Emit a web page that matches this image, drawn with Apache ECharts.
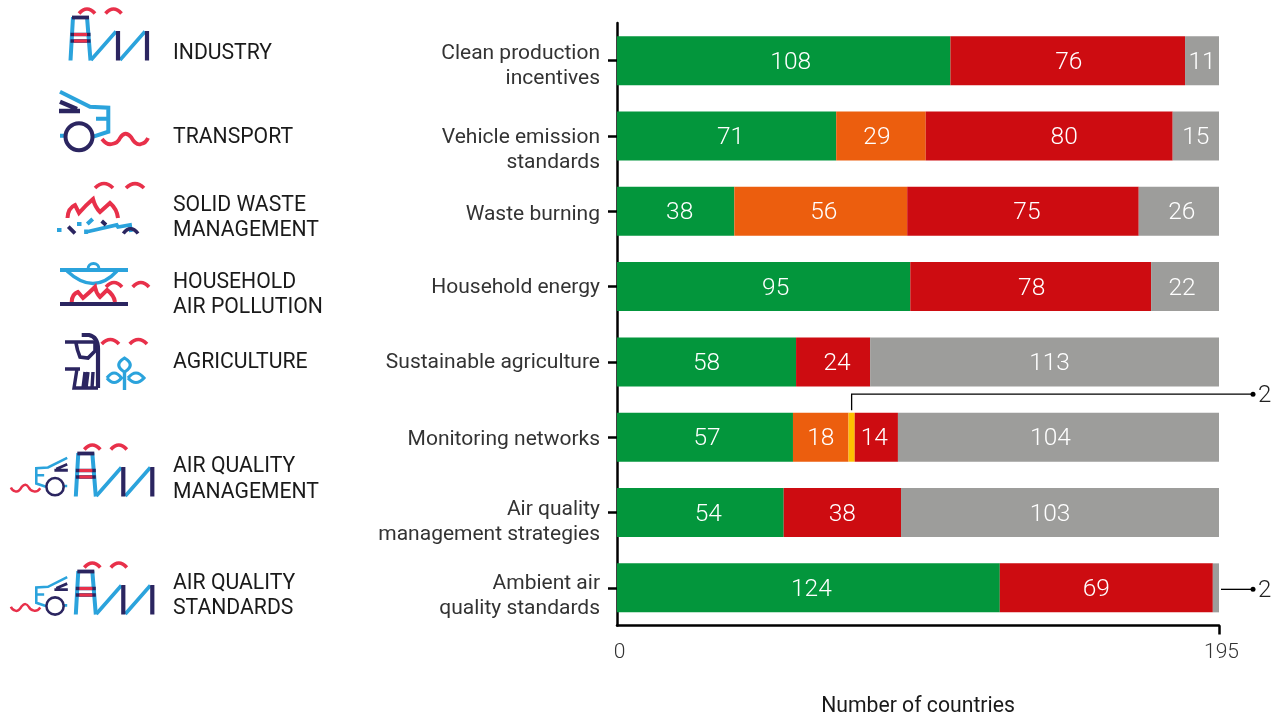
<!DOCTYPE html>
<html><head><meta charset="utf-8">
<style>html,body{margin:0;padding:0;background:#fff}#c{width:1279px;height:715px}</style>
<script src="https://cdn.jsdelivr.net/npm/echarts@6/dist/echarts.min.js"></script>
</head><body><div id="c"></div>
<script>
const categories = ['Clean production\nincentives','Vehicle emission\nstandards','Waste burning','Household energy','Sustainable agriculture','Monitoring networks','Air quality\nmanagement strategies','Ambient air\nquality standards'];
const greenValues  = [108,71,38,95,58,57,54,124];
const orangeValues = [null,29,56,null,null,18,null,null];
const yellowValues = [null,null,null,null,null,2,null,null];
const redValues    = [76,80,75,78,24,14,38,69];
const greyValues   = [11,15,26,22,113,104,103,2];
const axisMax = 195;
const calloutCategories = ['Monitoring networks','Ambient air\nquality standards'];
const calloutValues = [2,2];
const calloutAnchors = [76,195];
const sectorLabels = [
  ['INDUSTRY',54],['TRANSPORT',138],['SOLID WASTE',206],['MANAGEMENT',231],['HOUSEHOLD',283],
  ['AIR POLLUTION',308],['AGRICULTURE',363],['AIR QUALITY',467],['MANAGEMENT',493],['AIR QUALITY',584],['STANDARDS',609]];
const labelSpacers = [12,29,6,2,2,6,20,17];
// horizontal shift of each bar's value label, as placed in the original
const greenNudge  = [7,4,4,12,0,2,8,3];
const orangeNudge = [0,-4,3,0,0,0,0,0];
const yellowNudge = [0,0,0,0,0,0,0,0];
const redNudge    = [1,15,4,1,4,-2,0,-10];
const greyNudge   = [0,0,3,-3,5,-8,-10,0];

const BLUE='#2ba3dc',NAVY='#2b2560',RED='#e8304a';
const FONT='Roboto';
function p(d,stroke,lw){return {type:'path',silent:true,shape:{pathData:d},style:{fill:'none',stroke:stroke,lineWidth:lw,lineJoin:'miter'}};}
function arcs(list){return list.map(a=>p(`M${a[0]},${a[1]} Q${(a[0]+a[2])/2},${a[1]-a[3]*2} ${a[2]},${a[1]}`,RED,3.6));}
function factory(dx,dy){return {type:'group',x:dx,y:dy,silent:true,children:[
  p('M73,17 L70.5,60.5 M87,17 L90.5,60.5',BLUE,4),
  p('M72,17.5 L89,17.5',NAVY,3.8),
  p('M70.5,34.5 L90.5,34.5 M70.5,41 L90.5,41',NAVY,3.4),
  p('M74,34.5 L87,34.5 M74,41 L87,41',RED,2.8),
  p('M91,60 L116,31.5 M120,60 L145,31.5',BLUE,3.6),
  p('M118,31 L118,60.5 M147,31 L147,60.5',NAVY,4.2),
  ...arcs([[79,13.5,95,4.5],[105.5,13.5,121.5,4.5]])
]};}
function car(x,y,sx,sy){return {type:'group',x:x,y:y,scaleX:sx,scaleY:sy,silent:true,children:[
  p('M60,91.7 L90,106.7 L108.3,107.7 L108.3,131.7 L93.3,136.7 M96,118.7 L108,118.7 M60,135.7 L66,135.7',BLUE,4),
  p('M59,111 L80,111 M60,101.7 L77,109',NAVY,4.4),
  {type:'circle',silent:true,shape:{cx:79,cy:136.7,r:13.5},style:{fill:'none',stroke:NAVY,lineWidth:4}},
  p('M102,139 Q107,145.5 112,144 Q118,143 120,138 Q125,130 131,137 Q136,146 141,144 Q146,143 148,138',RED,3.8)
]};}
const icons=[
  factory(0,0),
  car(0,0,1,1),
  // solid waste
  ...arcs([[95,188,113,4.5],[126,188,144,4.5]]),
  p('M67.5,218 Q68,208 75,205 L79,213 Q86,205 93,199 Q95,207 100,212 L110,203 Q117,209 118,218',RED,4),
  p('M57,230 L61.5,230 M77,224 L81.5,224 M87.3,224 L92.7,219',BLUE,4),
  p('M86,234 L86,229.5 M86,232 L116.7,225 L118,227 L130,225 L131,232',BLUE,3.8),
  p('M68.3,226.7 L75,233.3 M101.7,221 L106,225',NAVY,3.8),
  p('M123.3,233.5 Q130.5,224 138,233.5',NAVY,3.6),
  // pot
  p('M60,270 L128,270',BLUE,3.8),
  p('M67,271 Q94,296 117,271',BLUE,3.4),
  p('M88,269 A5.5,5.5 0 0 1 99,269',BLUE,3),
  p('M60,304 L128,304',NAVY,3.8),
  p('M71.7,302 Q72,294 78,292 L83,298 Q90,292 95,287 Q96,293 100,297 L107,290 Q114,295 115,302',RED,4),
  ...arcs([[106,287,122,4.5],[132.7,287,149,4.5]]),
  // agriculture
  p('M81.7,335 L89,335 Q98,337 98,349 L98,388',NAVY,4.2),
  p('M65,342 L95,342 L95,351 L88,358 L80,357 Q77,350 76,343',NAVY,3.6),
  p('M65,369 L80,369 M77,369 L74,388 L83,388 L85,372 M88,372 L86,388 L92,388 L93,372 M93,388 L98,388',NAVY,3.4),
  p('M124.5,390 L124.5,372',BLUE,3.4),
  p('M124.5,372 Q113,365 124.5,358 Q136,365 124.5,372',BLUE,3.2),
  p('M107,378 Q114,368 121.5,378 Q114,387 107,378',BLUE,3.2),
  p('M128,378 Q136,368 144,378 Q136,387 128,378',BLUE,3.2),
  ...arcs([[101.7,344,119,4.5],[129.7,344,147,4.5]]),
  // air quality management + standards
  factory(5.3,436), car(105.6,399.2,-0.64,0.64),
  factory(5.3,554), car(105.6,518.5,-0.64,0.64)
];
const texts=sectorLabels.map(t=>({type:'text',silent:true,x:173,y:t[1],style:{text:t[0],font:`400 21.2px ${FONT}`,fill:'#1a1a1a',textVerticalAlign:'middle',textBaseline:'middle'}}));

function barSeries(name,values,color,nudge){return {name,type:'bar',stack:'t',barWidth:49,
  data:values.map((v,i)=>({value:v,label:{offset:[nudge[i],2]}})),itemStyle:{color},
  label:{show:true,position:'inside',color:'#fff',fontFamily:FONT,fontWeight:300,fontSize:24.5,formatter:o=>o.value>2?o.value:''}};}
const rich={t:{fontFamily:FONT,fontSize:21,fontWeight:400,color:'#333',lineHeight:25,align:'right'}};
labelSpacers.forEach(s=>{if(s)rich['g'+s]={fontSize:1,lineHeight:s,height:s};});

const chart=echarts.init(document.getElementById('c'),null,{renderer:'canvas'});
chart.setOption({
  animation:false,backgroundColor:'#fff',
  grid:{left:617,top:23,width:602,height:602.5,containLabel:false,outerBoundsMode:'none'},
  xAxis:{type:'value',min:0,max:axisMax,interval:axisMax,splitLine:{show:false},
    axisLine:{show:true,lineStyle:{color:'#000',width:2.5}},
    axisTick:{show:true,length:9,customValues:[axisMax],lineStyle:{color:'#000',width:2.5}},
    axisLabel:{show:true,customValues:[0,axisMax],margin:17,color:'#333',fontFamily:FONT,fontWeight:300,fontSize:21,padding:[0,0,0,5]},
    name:'Number of countries',nameLocation:'middle',nameGap:71,
    nameTextStyle:{fontFamily:FONT,fontSize:21.2,fontWeight:400,color:'#1a1a1a'}},
  yAxis:{type:'category',inverse:true,data:categories,offset:2,
    axisLine:{show:true,lineStyle:{color:'#000',width:2.5}},
    axisTick:{show:true,alignWithLabel:true,interval:0,length:9,inside:false,lineStyle:{color:'#000',width:2.5}},
    axisLabel:{interval:0,margin:15,align:'right',rich,
      formatter:(v,i)=>{const lines=v.split('\n').map(l=>`{t|${l}}`).join('\n');return labelSpacers[i]?`{g${labelSpacers[i]}| }\n${lines}`:lines;}}},
  series:[
    barSeries('Green',greenValues,'#03963c',greenNudge),
    barSeries('Orange',orangeValues,'#ec5e0e',orangeNudge),
    barSeries('Yellow',yellowValues,'#ffc000',yellowNudge),
    barSeries('Red',redValues,'#cd0c11',redNudge),
    barSeries('Grey',greyValues,'#9d9d9b',greyNudge),
    {type:'custom',name:'Callouts',clip:false,silent:true,z:5,
     encode:{x:0,y:1},
     data:calloutAnchors.map((a,i)=>[a,calloutCategories[i],calloutValues[i]]),
     renderItem:(params,api)=>{
       const pt=api.coord([api.value(0),params.dataIndex===0?5:7]);
       const x=pt[0],y=pt[1];
       const endX=1253;
       let d,ly;
       if(params.dataIndex===0){ly=y-43;d=`M${x},${y-27} L${x},${ly} L${endX},${ly}`;}
       else{ly=y+1.5;d=`M${x+2},${ly} L${endX},${ly}`;}
       return {type:'group',children:[
         {type:'path',shape:{pathData:d},style:{fill:'none',stroke:'#000',lineWidth:1.3}},
         {type:'circle',shape:{cx:endX,cy:ly,r:2.5},style:{fill:'#000'}},
         {type:'text',x:1258,y:ly+2,style:{text:String(api.value(2)),font:`300 24px ${FONT}`,fill:'#222',textBaseline:'middle',textVerticalAlign:'middle'}}
       ]};
     }},
    {type:'custom',name:'Icons',coordinateSystem:'none',clip:false,silent:true,data:[[0]],
     renderItem:()=>({type:'group',children:icons})}
  ],
  graphic:{elements:texts}
});
</script></body></html>
